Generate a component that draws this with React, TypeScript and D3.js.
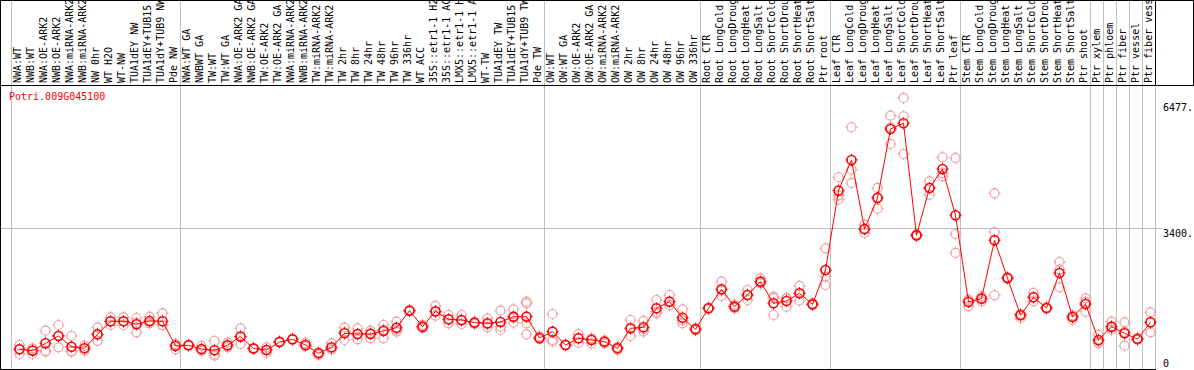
import React from "react";
import * as d3 from "d3";

const geneId = "Potri.009G045100";

const sampleLabels: string[] = [
  "NWA:WT", "NWB:WT", "NWA:OE-ARK2", "NWB:OE-ARK2", "NWA:miRNA-ARK2", "NWB:miRNA-ARK2", "NW 0hr", "WT H2O", "WT-NW", "TUA1dEY NW", "TUA1dEY+TUB15 NW", "TUA1dY+TUB9 NW", "Pde NW",
  "NWA:WT GA", "NWBWT GA", "TW:WT", "TW:WT GA", "NWA:OE-ARK2 GA", "NWB:OE-ARK2 GA", "TW:OE-ARK2", "TW:OE-ARK2 GA", "NWA:miRNA-ARK2", "NWB:miRNA-ARK2", "TW:miRNA-ARK2", "TW:miRNA-ARK2", "TW 2hr", "TW 8hr", "TW 24hr", "TW 48hr", "TW 96hr", "TW 336hr", "WT ACC", "35S::etr1-1 H2O", "35S::etr1-1 ACC", "LMX5::etr1-1 H2O", "LMX5::etr1-1 ACC", "WT-TW", "TUA1dEY TW", "TUA1dEY+TUB15 TW", "TUA1dY+TUB9 TW", "Pde TW",
  "OW:WT", "OW:WT GA", "OW:OE-ARK2", "OW:OE-ARK2 GA", "OW:miRNA-ARK2", "OW:miRNA-ARK2", "OW 2hr", "OW 8hr", "OW 24hr", "OW 48hr", "OW 96hr", "OW 336hr",
  "Root CTR", "Root LongCold", "Root LongDrought", "Root LongHeat", "Root LongSalt", "Root ShortCold", "Root ShortDrought", "Root ShortHeat", "Root ShortSalt", "Ptr root",
  "Leaf CTR", "Leaf LongCold", "Leaf LongDrought", "Leaf LongHeat", "Leaf LongSalt", "Leaf ShortCold", "Leaf ShortDrought", "Leaf ShortHeat", "Leaf ShortSalt", "Ptr leaf",
  "Stem CTR", "Stem LongCold", "Stem LongDrought", "Stem LongHeat", "Stem LongSalt", "Stem ShortCold", "Stem ShortDrought", "Stem ShortHeat", "Stem ShortSalt", "Ptr shoot",
  "Ptr xylem", "Ptr phloem", "Ptr fiber", "Ptr vessel", "Ptr fiber vessel",
];

const groupSizes: number[] = [13, 28, 12, 10, 10, 10, 1, 1, 1, 1, 1];

const meanValues: number[] = [
  444, 410, 590, 769, 508, 468, 810, 1127, 1127, 1054, 1135, 1127, 525,
  542, 451, 420, 542, 756, 464, 427, 622, 688, 549, 346, 493, 834, 817, 817, 891, 971, 1386, 996, 1371, 1176, 1159, 1093, 1078, 1110, 1240, 1240, 720,
  874, 549, 712, 671, 630, 468, 956, 981, 1444, 1606, 1215, 932,
  1444, 1908, 1484, 1769, 2094, 1566, 1623, 1810, 1542, 2379,
  4314, 5063, 3379, 4136, 5819, 5958, 3226, 4380, 4843, 3714,
  1598, 1679, 3104, 2184, 1274, 1713, 1452, 2306, 1232, 1549,
  671, 996, 834, 695, 1103,
];

const replicateValues: number[][] = [
  [549, 329, 450], [468, 329, 420], [898, 410, 386], [1037, 493, 780], [769, 386, 400], [532, 410, 470], [981, 810, 650], [1225, 1037, 1120], [1225, 1037, 1120], [1208, 859, 1090], [1240, 1078, 1090], [1322, 1037, 1030], [573, 444, 560],
  [560, 530, 540], [525, 410, 420], [647, 329, 290], [605, 493, 530], [956, 573, 740], [480, 450, 464], [493, 361, 430], [640, 610, 620], [700, 680, 690], [600, 530, 520], [305, 360, 370], [590, 450, 440], [971, 671, 860], [956, 688, 810], [898, 712, 840], [1037, 712, 920], [1118, 874, 920], [1400, 1370, 1390], [1040, 960, 990], [1501, 1264, 1350], [1281, 1078, 1170], [1281, 1061, 1140], [1118, 1061, 1100], [1200, 981, 1050], [1386, 996, 915], [1420, 1093, 1210], [1606, 1566, 1078, 810], [760, 700, 700],
  [1305, 671, 630], [560, 540, 549], [817, 605, 712], [712, 590, 700], [654, 590, 640], [427, 480, 500], [1159, 769, 940], [1135, 874, 930], [1647, 1322, 1360], [1769, 1525, 1520], [1420, 1078, 1150], [960, 910, 930],
  [1460, 1430, 1444], [2094, 1745, 1880], [1530, 1450, 1470], [1891, 1647, 1770], [2176, 2050, 2060], [1728, 1281, 1690], [1688, 1484, 1700], [1989, 1630, 1810], [1570, 1520, 1540], [2908, 2216, 2013],
  [4641, 4094, 4200], [5861, 4826, 4502], [3484, 3282, 3370], [4380, 3875, 4150], [6144, 5453, 5860], [6576, 6129, 5209], [3201, 3250, 3230], [4543, 4216, 4380], [5129, 4665, 4740], [5112, 3257, 2794],
  [1493, 1650, 1650], [1737, 1615, 1690], [4250, 3306, 1762], [2200, 2160, 2190], [1208, 1300, 1310], [1818, 1615, 1710], [1470, 1440, 1450], [2574, 1957, 2390], [1166, 1260, 1270], [1688, 1362, 1600],
  [793, 590, 630], [1118, 915, 960], [1103, 532, 870], [720, 680, 690], [1347, 859, 1100],
];

const yTickValues: number[] = [0, 3400, 6477];
const yTickLabels: string[] = ["0", "3400.", "6477."];

const W = 1194;
const H = 370;
const HEADER = 85;
const FONT = "'DejaVu Sans Mono', 'Liberation Mono', monospace";

function Marker({ cx, cy, color, sw }: { cx: number; cy: number; color: string; sw: number }) {
  const r = 4.5;
  const t = 1.6;
  return (
    <g>
      <circle cx={cx} cy={cy} r={r} fill="none" stroke={color} strokeWidth={sw} />
      <line x1={cx} y1={cy - r - t} x2={cx} y2={cy - r + 0.5} stroke={color} strokeWidth={1} />
      <line x1={cx} y1={cy + r - 0.5} x2={cx} y2={cy + r + t} stroke={color} strokeWidth={1} />
      <line x1={cx - r - t} y1={cy} x2={cx - r + 0.5} y2={cy} stroke={color} strokeWidth={1} />
      <line x1={cx + r - 0.5} y1={cy} x2={cx + r + t} y2={cy} stroke={color} strokeWidth={1} />
    </g>
  );
}

export default function App() {
  const n = sampleLabels.length;
  const x = d3.scaleBand<number>().domain(d3.range(n)).range([11, 11 + 13 * n]).paddingInner(0).paddingOuter(0);
  const y = d3.scaleLinear().domain([0, 6477]).range([367.5, 102]);
  const px = (i: number) => (x(i) as number) + 8.5;

  const boundaries: number[] = [11];
  let cum = 0;
  groupSizes.forEach((s) => {
    cum += s;
    boundaries.push(11 + 13 * cum);
  });

  const lineGen = d3
    .line<number>()
    .x((_, i) => px(i))
    .y((d) => y(d));

  return (
    <svg
      width={W}
      height={H}
      style={{ position: "absolute", left: 0, top: 0, background: "#fff" }}
      fontFamily={FONT}
      fontSize={10}
    >
      <rect x={0} y={0} width={W} height={H} fill="#fff" />
      {/* grid line at 3400 */}
      <line x1={1} x2={1162} y1={Math.round(y(3400)) + 0.5} y2={Math.round(y(3400)) + 0.5} stroke="#c0c0c0" strokeWidth={1} />
      {/* group separators */}
      {boundaries.map((b, k) => (
        <line key={"sep" + k} x1={b + 0.5} x2={b + 0.5} y1={0} y2={H} stroke="#c0c0c0" strokeWidth={1} />
      ))}
      {/* header borders */}
      <line x1={0} x2={W} y1={0.5} y2={0.5} stroke="#000" />
      <line x1={0} x2={W} y1={HEADER + 0.5} y2={HEADER + 0.5} stroke="#000" />
      <line x1={boundaries[boundaries.length - 1] + 0.5} x2={boundaries[boundaries.length - 1] + 0.5} y1={0} y2={HEADER} stroke="#000" />
      <line x1={W - 0.5} x2={W - 0.5} y1={0} y2={HEADER} stroke="#000" />
      <line x1={0.5} x2={0.5} y1={0} y2={H} stroke="#000" />
      <line x1={0} x2={1156} y1={369.5} y2={369.5} stroke="#000" />
      {/* sample labels */}
      {sampleLabels.map((lab, i) => (
        <text
          key={"lab" + i}
          transform={`translate(${(x(i) as number) + 10},83) rotate(-90)`}
          fill="#000"
          textAnchor="start"
        >
          {lab}
        </text>
      ))}
      {/* gene id */}
      <text x={9} y={100} fill="#ff0000">
        {geneId}
      </text>
      {/* y tick labels */}
      {yTickValues.map((v, k) => {
        const yy = Math.min(y(v) + 8.5, 366.5);
        return (
          <text key={"yt" + k} x={1163} y={yy} fill="#000">
            {yTickLabels[k]}
          </text>
        );
      })}
      {/* replicates */}
      {replicateValues.map((reps, i) =>
        reps.map((v, j) => <Marker key={`r${i}-${j}`} cx={px(i)} cy={y(v)} color="#f0a0a0" sw={1.2} />)
      )}
      {/* mean line */}
      <path d={lineGen(meanValues) || ""} fill="none" stroke="#ff0000" strokeWidth={1} />
      {meanValues.map((v, i) => (
        <Marker key={"m" + i} cx={px(i)} cy={y(v)} color="#ff0000" sw={1.6} />
      ))}
    </svg>
  );
}
